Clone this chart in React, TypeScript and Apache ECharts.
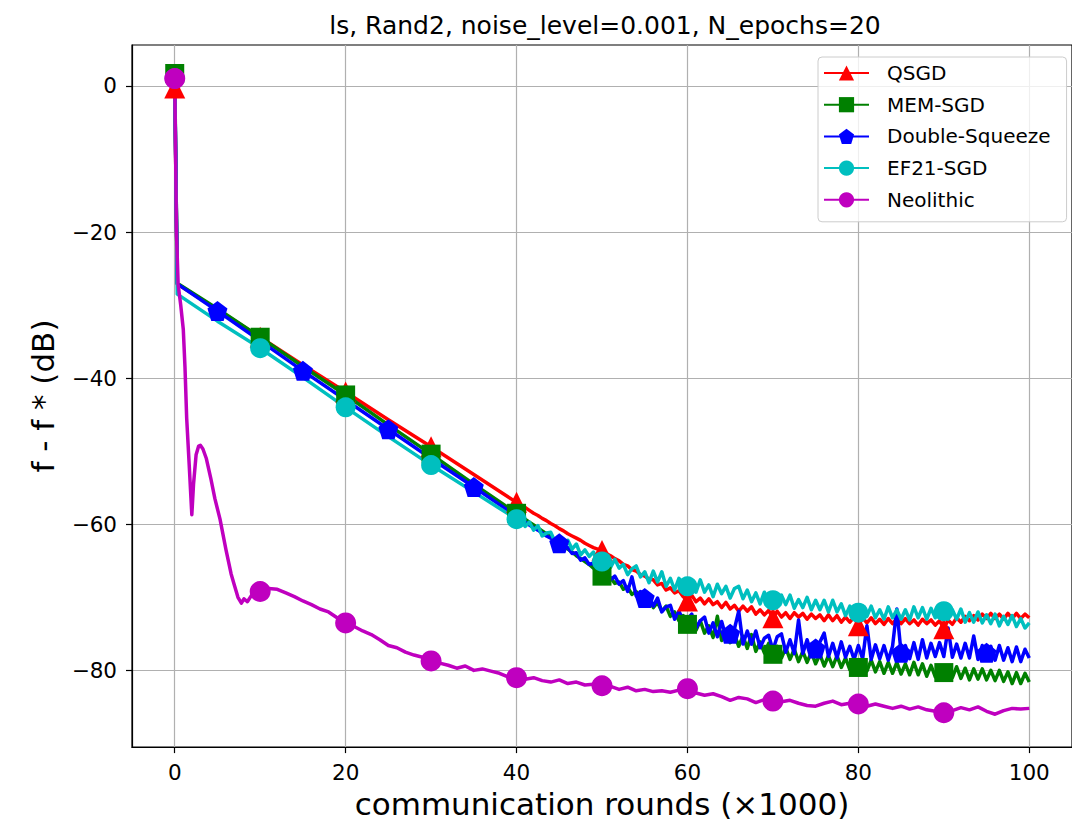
import React, { useEffect, useRef } from "react";
import * as echarts from "echarts";

const TITLE = "ls, Rand2, noise_level=0.001, N_epochs=20";
const X_LABEL = "communication rounds (×1000)";
const Y_LABEL = "f - f * (dB)";
const X_TICKS = [0, 20, 40, 60, 80, 100];
const Y_TICKS = [-80, -60, -40, -20, 0];
const NAMES = ["QSGD", "MEM-SGD", "Double-Squeeze", "EF21-SGD", "Neolithic"];

// sampling positions (x 1000 rounds) shared by the first four methods
const X_MAIN = [0, 0.3, 5, 10, 15, 20, 25, 30, 35, 40].concat(
  Array.from({ length: 120 }, (_, i) => 40.5 + i * 0.5)
);

const QSGD_Y = [
  -0.3, -27.1, -30.6, -34.4, -38.2, -41.9, -45.7, -49.4, -53.2, -57.0,
  -57.4, -57.7, -58.1, -58.5, -58.8, -59.2, -59.5, -59.9, -60.2, -60.6,
  -60.9, -61.3, -61.6, -61.9, -62.2, -62.6, -62.9, -63.2, -63.4, -63.6,
  -64.0, -64.3, -64.7, -65.0, -65.5, -65.7, -66.2, -66.4, -66.9, -67.1,
  -67.5, -67.6, -68.3, -68.1, -69.0, -68.7, -69.4, -69.1, -69.9, -70.5,
  -69.7, -70.6, -70.1, -70.9, -70.2, -71.0, -70.6, -71.4, -70.7, -71.6,
  -71.1, -71.9, -71.2, -71.9, -71.3, -72.3, -71.7, -72.4, -71.8, -72.8,
  -71.9, -72.7, -72.1, -72.9, -72.1, -72.7, -72.2, -73.0, -72.3, -72.9,
  -72.4, -73.2, -72.4, -73.2, -72.5, -73.4, -72.7, -73.4, -72.7, -73.9,
  -72.8, -73.5, -72.8, -73.6, -73.0, -73.7, -72.9, -73.6, -72.9, -73.6,
  -72.9, -73.6, -73.1, -73.8, -73.0, -73.6, -73.1, -73.8, -73.2, -74.3,
  -73.1, -73.7, -72.8, -73.4, -72.6, -73.2, -72.5, -73.1, -72.3, -72.9,
  -72.2, -72.9, -72.3, -73.0, -72.2, -72.9, -72.2, -72.9, -72.3, -72.8,
];

const MEM_Y = [
  1.7, -27.0, -30.5, -34.4, -38.4, -42.3, -46.4, -50.4, -54.5, -58.5,
  -58.9, -59.3, -59.7, -60.1, -60.5, -60.9, -61.3, -61.7, -62.1, -62.6,
  -63.0, -63.4, -63.8, -64.3, -64.7, -65.1, -65.5, -66.0, -66.4, -67.1,
  -67.2, -67.3, -68.1, -67.9, -68.9, -68.6, -69.6, -69.2, -70.3, -70.3,
  -70.2, -71.4, -70.7, -71.9, -71.2, -72.6, -72.0, -73.2, -72.5, -73.7,
  -72.9, -74.5, -73.2, -74.9, -73.9, -75.5, -72.6, -75.9, -74.6, -76.2,
  -75.1, -76.7, -75.3, -77.0, -75.1, -77.4, -76.1, -77.6, -76.3, -77.8,
  -76.7, -78.3, -76.9, -78.5, -77.1, -78.8, -77.4, -78.9, -77.5, -79.1,
  -77.8, -79.4, -78.0, -79.5, -78.0, -79.6, -78.3, -79.9, -78.5, -79.6,
  -78.6, -80.1, -78.6, -80.2, -78.8, -80.4, -78.9, -80.4, -78.9, -80.5,
  -79.1, -80.6, -78.9, -80.6, -79.1, -80.8, -79.3, -80.9, -79.5, -80.3,
  -79.6, -81.0, -79.5, -81.1, -79.7, -81.3, -79.8, -81.2, -79.8, -81.3,
  -80.0, -81.4, -80.0, -81.5, -80.2, -81.8, -80.3, -81.8, -80.4, -81.6,
];

const DS_Y = [
  1.0, -27.1, -30.8, -34.9, -39.0, -43.0, -47.0, -51.0, -54.9, -58.9,
  -59.3, -59.7, -60.1, -60.5, -60.8, -61.2, -61.6, -61.9, -62.3, -62.6,
  -63.0, -63.2, -64.0, -63.9, -64.9, -64.6, -65.5, -65.3, -66.4, -66.5,
  -66.5, -67.6, -67.1, -68.2, -67.7, -69.2, -67.2, -69.8, -69.2, -70.1,
  -69.8, -71.2, -70.1, -72.0, -71.3, -71.1, -73.0, -71.9, -73.1, -73.0,
  -72.3, -74.2, -73.2, -72.7, -74.9, -73.5, -75.4, -73.3, -75.4, -75.0,
  -74.3, -71.9, -76.4, -74.6, -76.4, -74.6, -76.9, -75.6, -75.2, -77.2,
  -75.4, -75.0, -77.5, -75.8, -77.7, -73.1, -77.7, -75.8, -77.8, -77.0,
  -76.1, -74.9, -78.1, -76.3, -78.3, -76.1, -78.2, -76.7, -78.5, -76.6,
  -78.4, -73.9, -78.5, -76.5, -78.4, -76.6, -78.6, -76.7, -71.6, -77.6,
  -76.6, -78.4, -76.2, -78.5, -75.8, -78.3, -76.3, -78.1, -76.2, -78.1,
  -74.2, -78.2, -76.4, -78.3, -76.3, -78.3, -75.3, -78.5, -76.6, -77.6,
  -76.7, -78.6, -76.6, -78.6, -76.9, -78.8, -76.8, -78.8, -77.1, -78.3,
];

const EF21_Y = [
  1.0, -28.5, -32.2, -35.9, -39.9, -44.0, -48.0, -51.9, -55.6, -59.3,
  -59.3, -60.3, -59.7, -60.8, -60.2, -61.6, -61.2, -61.1, -62.4, -62.0,
  -63.1, -62.2, -63.4, -62.7, -64.2, -63.5, -64.4, -63.8, -65.2, -65.1,
  -64.6, -65.9, -64.8, -66.0, -65.5, -66.9, -66.1, -65.7, -67.2, -66.5,
  -68.0, -66.4, -67.9, -66.5, -68.5, -67.4, -69.0, -67.4, -68.1, -68.5,
  -67.7, -69.3, -67.6, -69.3, -68.3, -69.9, -68.2, -69.5, -68.5, -70.1,
  -68.8, -68.5, -70.2, -69.0, -70.6, -69.4, -70.9, -69.3, -70.7, -70.4,
  -71.2, -69.7, -71.0, -69.7, -71.5, -70.3, -71.4, -70.0, -71.7, -70.4,
  -71.7, -70.4, -72.0, -70.4, -72.0, -70.9, -72.5, -71.2, -72.5, -72.1,
  -71.2, -72.6, -71.2, -72.8, -71.7, -73.0, -71.3, -72.8, -71.7, -73.0,
  -71.7, -73.1, -71.3, -72.8, -71.4, -73.0, -71.5, -72.8, -71.5, -71.9,
  -73.0, -71.7, -73.0, -71.6, -73.4, -72.1, -73.4, -72.0, -73.5, -72.4,
  -73.6, -72.3, -73.9, -72.6, -73.7, -72.5, -74.0, -72.9, -74.2, -73.5,
];

// Neolithic has its own, finer sampling near the start
const NEO_X = [
  0, 0.1, 0.2, 0.4, 0.7, 1.0, 1.2, 1.4, 1.7, 2.0, 2.2, 2.5, 2.8, 3.0, 3.3,
  3.7, 4.2, 4.7, 5.3, 6.0, 6.6, 7.0, 7.4, 7.8, 8.1, 8.5, 9.0, 10,
].concat(Array.from({ length: 90 }, (_, i) => 11 + i));

const NEO_Y = [
  1.0, -9.0, -20.0, -27.2, -30.0, -33.3, -38.5, -45.5, -52.0, -58.7, -54.5, -50.5, -49.3, -49.2, -49.7,
  -51.0, -53.6, -56.5, -59.3, -63.5, -66.8, -68.4, -70.0, -70.8, -70.2, -70.6, -69.7, -69.2,
  -68.8, -68.9, -69.4, -69.9, -70.5, -71.0, -71.6, -72.0, -72.8, -73.5,
  -74.0, -74.6, -75.1, -75.8, -76.6, -76.9, -77.5, -77.9, -78.2, -78.7,
  -79.0, -79.3, -79.7, -79.4, -80.0, -79.8, -80.1, -80.4, -80.9, -81.0,
  -81.2, -81.0, -81.4, -81.6, -81.3, -81.8, -81.6, -82.0, -81.9, -82.1,
  -82.2, -82.6, -82.3, -82.8, -82.6, -82.9, -82.8, -83.0, -82.7, -82.5,
  -83.1, -83.4, -83.2, -83.6, -84.1, -83.7, -83.9, -84.4, -84.0, -84.2,
  -84.3, -84.1, -84.5, -84.8, -84.9, -84.5, -84.2, -84.7, -84.5, -84.6,
  -84.9, -84.6, -84.9, -85.2, -84.9, -85.3, -85.0, -85.4, -85.6, -85.8,
  -85.5, -85.1, -85.4, -85.0, -85.6, -86.0, -85.5, -85.2, -85.3, -85.2,
];

// x positions where each method shows its marker
const MARKS_TENS = [0, 10, 20, 30, 40, 50, 60, 70, 80, 90];
const MARKS_FIVES = [5, 15, 25, 35, 45, 55, 65, 75, 85, 95];

const FONT = "DejaVu Sans";
const PENTAGON = "path://M0,-10 L9.51,-3.09 L5.88,8.09 L-5.88,8.09 L-9.51,-3.09 Z";

function buildData(xs: number[], ys: number[], marks: number[]) {
  return xs.map((x, i) =>
    marks.indexOf(x) >= 0 ? [x, ys[i]] : { value: [x, ys[i]], symbol: "none" }
  );
}

function lineSeries(name: string, xs: number[], ys: number[], marks: number[], color: string, symbol: string, size: number) {
  return {
    type: "line",
    name,
    data: buildData(xs, ys, marks),
    symbol,
    symbolSize: size,
    showSymbol: true,
    lineStyle: { color, width: 3.5, join: "round" },
    itemStyle: { color },
    emphasis: { disabled: true },
    animation: false,
  };
}

const minus = (v: number) => (v < 0 ? "\u2212" + Math.abs(v) : String(v));

export default function App() {
  const ref = useRef<HTMLDivElement>(null);
  useEffect(() => {
    if (!ref.current) return;
    const chart = echarts.init(ref.current, null, { renderer: "svg" });
    const axisText = { fontSize: 21.5, color: "#000", fontFamily: FONT };
    chart.setOption({
      animation: false,
      backgroundColor: "#fff",
      title: {
        text: TITLE,
        left: 605,
        top: 12.5,
        padding: 0,
        textAlign: "center",
        textStyle: { fontSize: 25, fontWeight: "normal", color: "#000", fontFamily: FONT },
      },
      legend: {
        orient: "vertical",
        left: 818,
        top: 57,
        data: NAMES,
        itemWidth: 45,
        itemHeight: 19,
        itemGap: 9.7,
        padding: [5, 16, 11, 5],
        backgroundColor: "rgba(255,255,255,0.8)",
        borderColor: "#cccccc",
        borderWidth: 1,
        borderRadius: 4,
        selectedMode: false,
        textStyle: { fontSize: 20, lineHeight: 22, color: "#000", fontFamily: FONT, padding: [0, 0, 0, 13] },
      },
      grid: {
        left: 132,
        top: 45,
        width: 946,
        height: 705,
        show: true,
        borderColor: "#000",
        borderWidth: 1.2,
        backgroundColor: "transparent",
      },
      xAxis: {
        type: "value",
        min: -5,
        max: 105,
        name: X_LABEL,
        nameLocation: "middle",
        nameGap: 40,
        nameTextStyle: { fontSize: 31, color: "#000", fontFamily: FONT },
        axisLine: { onZero: false, lineStyle: { color: "#000", width: 1.2 } },
        axisTick: { customValues: X_TICKS, length: 6, lineStyle: { color: "#000", width: 1.2 } },
        axisLabel: { customValues: X_TICKS, margin: 14, formatter: minus, ...axisText },
        splitLine: { show: true, lineStyle: { color: "#b0b0b0", width: 1.2 } },
      },
      yAxis: {
        type: "value",
        min: -90.5,
        max: 5.6,
        name: Y_LABEL,
        nameLocation: "middle",
        nameRotate: 90,
        nameGap: 74,
        nameTextStyle: { fontSize: 31, color: "#000", fontFamily: FONT },
        axisLine: { onZero: false, lineStyle: { color: "#000", width: 1.2 } },
        axisTick: { customValues: Y_TICKS, length: 6, lineStyle: { color: "#000", width: 1.2 } },
        axisLabel: { customValues: Y_TICKS, margin: 15, formatter: minus, ...axisText },
        splitLine: { show: true, lineStyle: { color: "#b0b0b0", width: 1.2 } },
      },
      series: [
        lineSeries(NAMES[0], X_MAIN, QSGD_Y, MARKS_TENS, "#ff0000", "triangle", 21),
        lineSeries(NAMES[1], X_MAIN, MEM_Y, MARKS_TENS, "#008000", "rect", 19),
        lineSeries(NAMES[2], X_MAIN, DS_Y, MARKS_FIVES, "#0000ff", PENTAGON, 20),
        lineSeries(NAMES[3], X_MAIN, EF21_Y, MARKS_TENS, "#00bfbf", "circle", 20),
        lineSeries(NAMES[4], NEO_X, NEO_Y, MARKS_TENS, "#bf00bf", "circle", 21),
      ],
    });
    return () => chart.dispose();
  }, []);
  return (
    <div
      ref={ref}
      style={{ position: "absolute", left: 0, top: 0, width: 1072, height: 824 }}
    />
  );
}
